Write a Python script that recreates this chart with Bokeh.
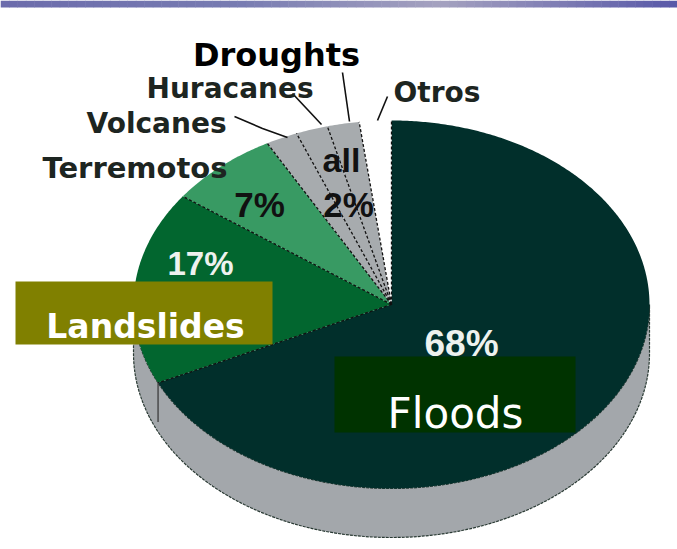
import numpy as np
from bokeh.plotting import figure
from bokeh.models import Range1d
from bokeh.core.properties import value
from bokeh.embed import file_html
from bokeh.resources import INLINE

# Share of disasters by type (percent), clockwise from 12 o'clock
categories = ["Floods", "Landslides", "Terremotos", "Volcanes", "Huracanes", "Droughts", "Otros"]
shares = [68, 17, 7, 2, 2, 2, 2]
slice_colors = ["#012f2b", "#02662f", "#389a63", "#a7abae", "#a7abae", "#a7abae", "#ffffff"]

W, H = 677, 549
p = figure(width=W, height=H, output_backend="svg", toolbar_location=None,
           x_range=Range1d(0, W), y_range=Range1d(H, 0), min_border=0)
p.axis.visible = False
p.grid.visible = False
p.outline_line_color = None
p.background_fill_color = "white"
p.border_fill_color = "white"

# header strip with a soft horizontal gradient
stops_x = [0, 0.35, 0.65, 1.0]
stops_c = [(108, 108, 172), (120, 124, 178), (165, 162, 192), (88, 88, 168)]
n = 80
edges = np.linspace(0, W, n + 1)
cols = []
for i in range(n):
    t = (i + 0.5) / n
    c = [int(np.interp(t, stops_x, [s[k] for s in stops_c])) for k in range(3)]
    cols.append("#%02x%02x%02x" % tuple(c))
p.quad(left=edges[:-1], right=edges[1:] + 0.5, top=0, bottom=7, fill_color=cols, line_color=None)

# tilted pie geometry (screen pixels)
cx, cy, rx, ry, depth = 391, 304, 258, 184, 49


def rim(phi_deg):
    phi = np.radians(phi_deg)
    return cx + rx * np.sin(phi), cy - ry * np.cos(phi)


# visible side wall (front half)
phis = np.linspace(90, 270, 200)
tx, ty = rim(phis)
side_x = np.concatenate([tx, tx[::-1]])
side_y = np.concatenate([ty, ty[::-1] + depth])
p.patch(side_x, side_y, fill_color="#a3a7ab", line_color="#2a3a34", line_width=1.2, line_dash="3 1")

# slices on top surface
cum = np.cumsum([0] + shares) / sum(shares) * 360.0
xs, ys = [], []
for a0, a1 in zip(cum[:-1], cum[1:]):
    ph = np.linspace(a0, a1, max(4, int((a1 - a0) * 2)))
    ex, ey = rim(ph)
    xs.append(np.concatenate([[cx], ex, [cx]]))
    ys.append(np.concatenate([[cy], ey, [cy]]))
p.patches(xs, ys, fill_color=slice_colors, line_color=None)

# slice boundaries
for a in cum[:-1]:
    bx, by = rim(a)
    p.line([cx, bx], [cy, by], line_color="#111111", line_width=1.3, line_dash="3 2")

# edge of the Floods/Landslides boundary down the side wall
bx, by = rim(cum[1])
p.line([bx, bx], [by, by + depth * 0.8], line_color="#333333", line_width=1.2)

# leader lines for the thin slices
leaders = [
    ([234, 262, 287], [116, 128, 137]),
    ([292, 321], [93, 124]),
    ([342, 349], [72, 121]),
    ([387, 377], [96, 120]),
]
for lx, ly in leaders:
    p.line(lx, ly, line_color="#111111", line_width=1.6)

dark = "#1d2521"


def label(x, y, txt, size, color=dark, font="DejaVu Sans", style="bold", align="left"):
    p.text(x=[x], y=[y], text=[txt], text_font=value(font), text_font_size=size,
           text_font_style=style, text_color=color, text_align=align, text_baseline="alphabetic")


label(276, 54, "Droughts", "32px", color="#000000", align="center")
label(146, 88, "Huracanes", "28px")
label(393, 92, "Otros", "28px")
label(86, 123, "Volcanes", "28px")
label(42, 167, "Terremotos", "29px")

pct_font = "Liberation Sans"
label(259, 204, f"{shares[2]}%", "35px", color="#111111", font=pct_font, align="center")
label(341, 159, "all", "34px", color="#111111", font=pct_font, align="center")
label(348, 204, f"{shares[3]}%", "35px", color="#111111", font=pct_font, align="center")
label(200, 263, f"{shares[1]}%", "33px", color="#eef2ee", font=pct_font, align="center")
label(461, 343, f"{shares[0]}%", "37px", color="#eef2ee", font=pct_font, align="center")

# category call-out boxes
p.quad(left=15, right=272, top=281, bottom=344, fill_color="#808000", line_color=None)
label(145, 326, categories[1], "33px", color="#ffffff", align="center")
p.quad(left=334, right=575, top=356, bottom=432, fill_color="#003300", line_color=None)
label(455, 413, categories[0], "42px", color="#ffffff", style="normal", align="center")

open("out.html", "w").write(file_html(p, INLINE))
